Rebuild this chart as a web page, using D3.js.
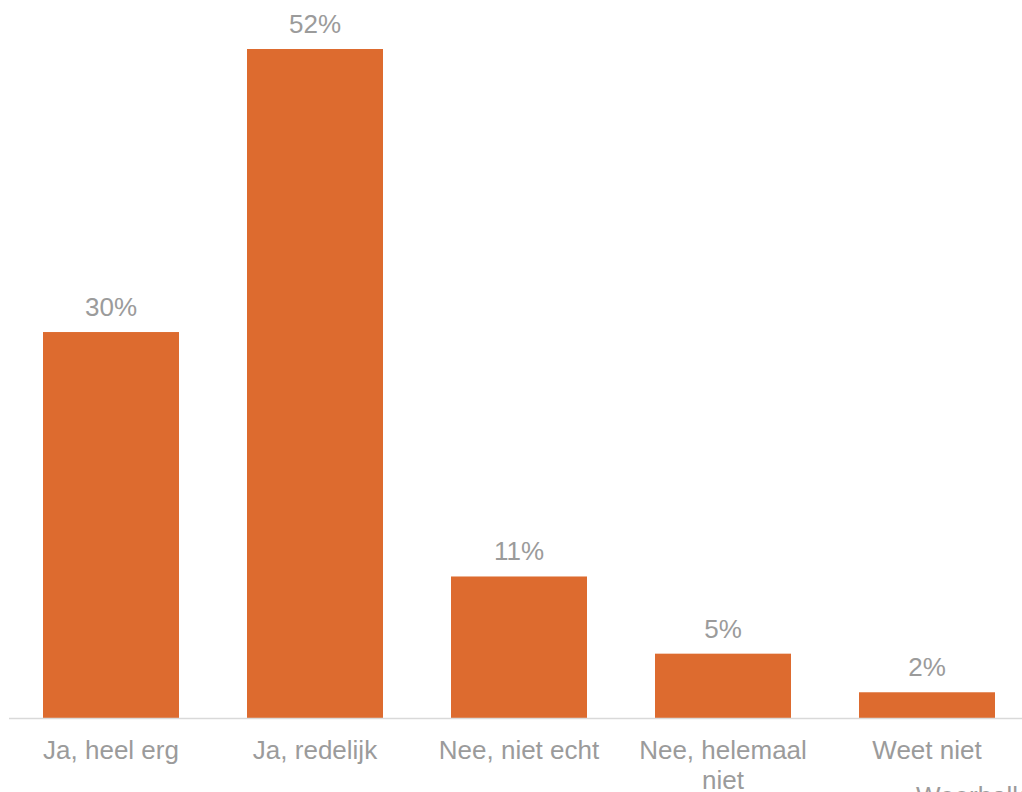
<!DOCTYPE html>
<html>
<head>
<meta charset="utf-8">
<script src="https://d3js.org/d3.v7.min.js"></script>
<style>
  body { margin: 0; background: #fff; overflow: hidden; }
  text { font-family: "Liberation Sans", Arial, sans-serif; }
</style>
</head>
<body>
<div id="chart"></div>
<script>
var categories = ["Ja, heel erg", "Ja, redelijk", "Nee, niet echt", "Nee, helemaal niet", "Weet niet"];
var values = [0.30, 0.52, 0.11, 0.05, 0.02];
var valueLabels = ["30%", "52%", "11%", "5%", "2%"];

var W = 1022, H = 792;
var baseY = 718;

var svg = d3.select("#chart").append("svg")
    .attr("width", W)
    .attr("height", H);

var x = d3.scaleBand()
    .domain(categories)
    .range([9, 1029])
    .paddingInner(1 / 3)
    .paddingOuter(1 / 6);

var y = d3.scaleLinear()
    .domain([0, 0.52])
    .range([baseY, 49]);

var data = categories.map(function(c, i) {
  return { cat: c, value: values[i], label: valueLabels[i] };
});

svg.selectAll(".bar")
    .data(data)
  .enter().append("rect")
    .attr("class", "bar")
    .attr("x", function(d) { return x(d.cat); })
    .attr("y", function(d) { return y(d.value); })
    .attr("width", x.bandwidth())
    .attr("height", function(d) { return baseY - y(d.value); })
    .attr("fill", "#DD6B2F");

// axis line
svg.append("line")
    .attr("x1", 9).attr("x2", W)
    .attr("y1", baseY + 0.5).attr("y2", baseY + 0.5)
    .attr("stroke", "#D9D9D9")
    .attr("stroke-width", 1.5);

// value labels
svg.selectAll(".val")
    .data(data)
  .enter().append("text")
    .attr("class", "val")
    .attr("x", function(d) { return x(d.cat) + x.bandwidth() / 2; })
    .attr("y", function(d) { return y(d.value) - 16; })
    .attr("text-anchor", "middle")
    .attr("font-size", "26px")
    .attr("fill", "#9B9B9B")
    .text(function(d) { return d.label; });

// category labels, wrapped
var cats = svg.selectAll(".cat")
    .data(categories)
  .enter().append("text")
    .attr("class", "cat")
    .attr("x", function(d) { return x(d) + x.bandwidth() / 2; })
    .attr("y", 759)
    .attr("text-anchor", "middle")
    .attr("font-size", "26px")
    .attr("fill", "#9B9B9B");

cats.each(function(d) {
  var t = d3.select(this);
  var words = d.split(" ");
  var line = [];
  var cx = x(d) + x.bandwidth() / 2;
  var tspan = t.append("tspan").attr("x", cx).attr("dy", 0);
  words.forEach(function(w) {
    line.push(w);
    tspan.text(line.join(" "));
    if (tspan.node().getComputedTextLength() > 190 && line.length > 1) {
      line.pop();
      tspan.text(line.join(" "));
      line = [w];
      tspan = t.append("tspan").attr("x", cx).attr("dy", 30).text(w);
    }
  });
});

// footnote cut off by the bottom edge, as in the original
svg.append("text")
    .attr("x", 916)
    .attr("y", 805)
    .attr("font-size", "26px")
    .attr("fill", "#9B9B9B")
    .text("Weerbalk");
</script>
</body>
</html>
